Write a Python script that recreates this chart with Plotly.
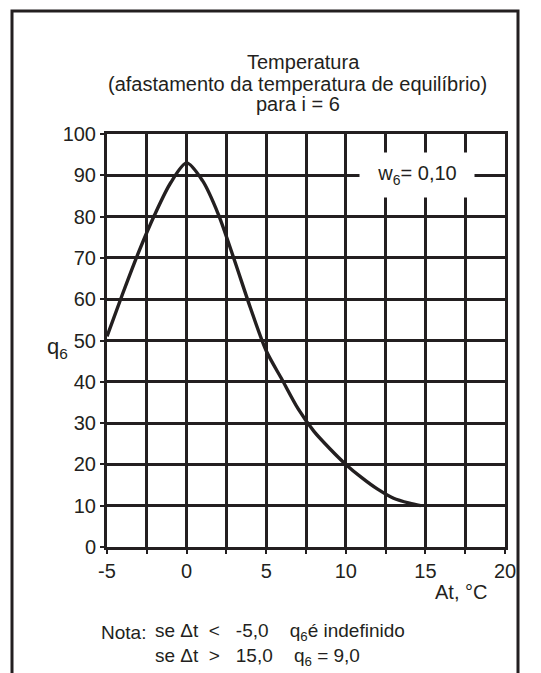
import plotly.graph_objects as go

# curve
delta_t = [-5, -4, -3, -2, -1, 0, 1, 2, 3, 4, 5, 6, 7, 8, 9, 10, 11, 12, 13, 14, 14.7]
q6 = [51, 61.5, 71.5, 80.5, 88.2, 93, 88.7, 80.5, 69.5, 58, 47.5, 40.5, 33.5, 28, 23.8, 20, 16.8, 14, 11.8, 10.6, 10]

x_ticks = [-5, 0, 5, 10, 15, 20]
y_ticks = [0, 10, 20, 30, 40, 50, 60, 70, 80, 90, 100]

ink = '#231f20'
font = 'Liberation Sans, Arial, sans-serif'

fig = go.Figure()
fig.add_trace(go.Scatter(
    x=delta_t, y=q6,
    mode='lines',
    line=dict(color=ink, width=3.4, shape='spline', smoothing=0.8),
    showlegend=False, hoverinfo='skip'
))

# screen pixel -> paper helpers (plot area 107..505 x 134..547 on screen)
def px(p):
    return (p - 107) / 398

def py(p):
    return (547 - p) / 413

annotations = [
    dict(text='Temperatura', x=px(303), y=py(62), size=20),
    dict(text='(afastamento da temperatura de equilíbrio)', x=px(297), y=py(84), size=20),
    dict(text='para i = 6', x=px(298), y=py(104), size=20),
    dict(text='At, °C', x=px(461), y=py(592), size=20),
    dict(text='q<sub>6</sub>', x=px(57), y=py(348), size=22),
    dict(text='Nota:', x=px(148), y=py(632), xanchor='right', size=19),
    dict(text='se Δt  <   -5,0    q<sub>6</sub>é indefinido', x=px(153), y=py(632), xanchor='left', size=19),
    dict(text='se Δt  >   15,0    q<sub>6</sub> = 9,0', x=px(153), y=py(657), xanchor='left', size=19),
]
for a in annotations:
    a.setdefault('xanchor', 'center')
    size = a.pop('size')
    a.update(xref='paper', yref='paper', yanchor='middle', showarrow=False,
             font=dict(family=font, size=size, color=ink))

# label box over the grid
annotations.append(dict(
    text='w<sub>6</sub>= 0,10', x=14.5, y=90, xref='x', yref='y',
    showarrow=False, bgcolor='white', width=114, height=44, borderpad=0,
    font=dict(family=font, size=20, color=ink)
))

shapes = [
    dict(type='path', xref='paper', yref='paper',
         path=f'M {px(12)} {py(700)} L {px(12)} {py(11)} L {px(518)} {py(11)} L {px(518)} {py(700)}',
         line=dict(color=ink, width=3))
]

fig.update_layout(
    width=541, height=673,
    margin=dict(l=99, r=44, t=126, b=134),
    paper_bgcolor='white', plot_bgcolor='white',
    font=dict(family=font, size=20, color=ink),
    xaxis=dict(
        range=[-5, 20], tickvals=x_ticks, ticktext=[str(v) for v in x_ticks],
        showgrid=True, gridcolor=ink, gridwidth=2.8,
        minor=dict(dtick=2.5, tick0=-5, showgrid=True, gridcolor=ink, gridwidth=2.8,
                   ticks='outside', ticklen=4, tickcolor=ink),
        showline=True, linecolor=ink, linewidth=3, mirror=True,
        ticks='outside', ticklen=4, tickcolor=ink, tickwidth=2,
        zeroline=False, fixedrange=True
    ),
    yaxis=dict(
        range=[0, 100], tickvals=y_ticks,
        showgrid=True, gridcolor=ink, gridwidth=2.8,
        showline=True, linecolor=ink, linewidth=3, mirror=True,
        ticks='outside', ticklen=4, tickcolor=ink, tickwidth=2,
        zeroline=False, fixedrange=True
    ),
    annotations=annotations,
    shapes=shapes,
)

fig.write_html('out.html')
